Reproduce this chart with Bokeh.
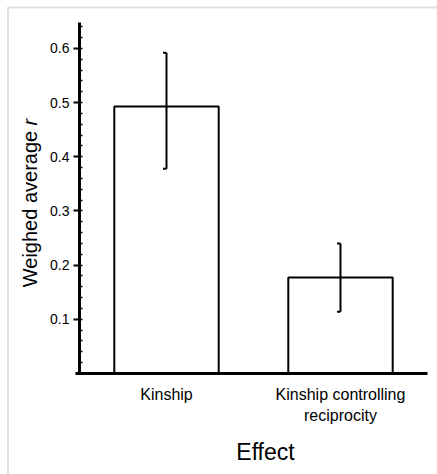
from bokeh.plotting import figure
from bokeh.models import FixedTicker, Label, ColumnDataSource, Range1d, BoxAnnotation
from bokeh.embed import file_html
from bokeh.resources import INLINE
import math

categories = ["Kinship", "Kinship controlling\nreciprocity"]
mean_r = [0.493, 0.177]
err_low = [0.378, 0.114]
err_high = [0.592, 0.240]
y_ticks = [0.1, 0.2, 0.3, 0.4, 0.5, 0.6]
y_minor = [round(0.02 * i, 2) for i in range(1, 33)]

pos = [i + 0.5 for i in range(len(categories))]
cap_left = [x - 0.02 for x in pos]
src = ColumnDataSource(dict(x=pos, xc=cap_left, top=mean_r, lo=err_low, hi=err_high))

FONT = "Liberation Sans"

# frame covers the whole canvas; axes are pinned at x=0 / y=0
p = figure(width=437, height=474,
           x_range=Range1d(-0.4540, 2.0575), y_range=Range1d(-0.1865, 0.6886),
           output_backend="svg", toolbar_location=None, min_border=0)
p.grid.visible = False
p.outline_line_color = None

p.add_layout(BoxAnnotation(left=-0.411, top=0.6757, right=3, bottom=-1,
                           fill_alpha=0, line_color="#999999", line_width=2))

p.vbar(x="x", top="top", width=0.6, source=src, fill_color="white",
       line_color="black", line_width=2)
p.segment(x0="x", x1="x", y0="lo", y1="hi", source=src, line_color="black", line_width=2)
p.segment(x0="xc", x1="x", y0="hi", y1="hi", source=src, line_color="black", line_width=2)
p.segment(x0="xc", x1="x", y0="lo", y1="lo", source=src, line_color="black", line_width=2)

yax = p.yaxis[0]
yax.fixed_location = 0
yax.bounds = (0, 0.648)
yax.ticker = FixedTicker(ticks=y_ticks, minor_ticks=y_minor)
yax.axis_line_width = 3
yax.major_tick_line_width = 2
yax.major_tick_out = 6
yax.major_tick_in = 0
yax.minor_tick_in = 3
yax.minor_tick_out = 0
yax.minor_tick_line_width = 1.5
yax.major_label_text_font = FONT
yax.major_label_text_font_size = "14px"
yax.major_label_text_color = "black"
yax.major_label_standoff = 4

xax = p.xaxis[0]
xax.fixed_location = 0
xax.bounds = (-0.023, 2)
xax.ticker = FixedTicker(ticks=pos)
xax.major_label_overrides = dict(zip(pos, categories))
xax.axis_line_width = 3
xax.major_tick_out = 0
xax.major_tick_in = 0
xax.minor_tick_out = 0
xax.minor_tick_in = 0
xax.major_label_text_font = FONT
xax.major_label_text_font_size = "16px"
xax.major_label_text_color = "black"
xax.major_label_standoff = 13

p.add_layout(Label(x=1.069, y=-0.1458, text="Effect",
                   text_font=FONT, text_font_size="23px",
                   text_align="center", text_baseline="middle", text_color="black"))
p.add_layout(Label(x=-0.287, y=0.448, text="Weighed average",
                   angle=math.pi / 2, text_font=FONT, text_font_size="20px", text_align="right",
                   text_baseline="middle", text_color="black"))
p.add_layout(Label(x=-0.287, y=0.458, text="r",
                   angle=math.pi / 2, text_font_style="italic",
                   text_font=FONT, text_font_size="20px", text_align="left",
                   text_baseline="middle", text_color="black"))

open("out.html", "w").write(file_html(p, INLINE))
